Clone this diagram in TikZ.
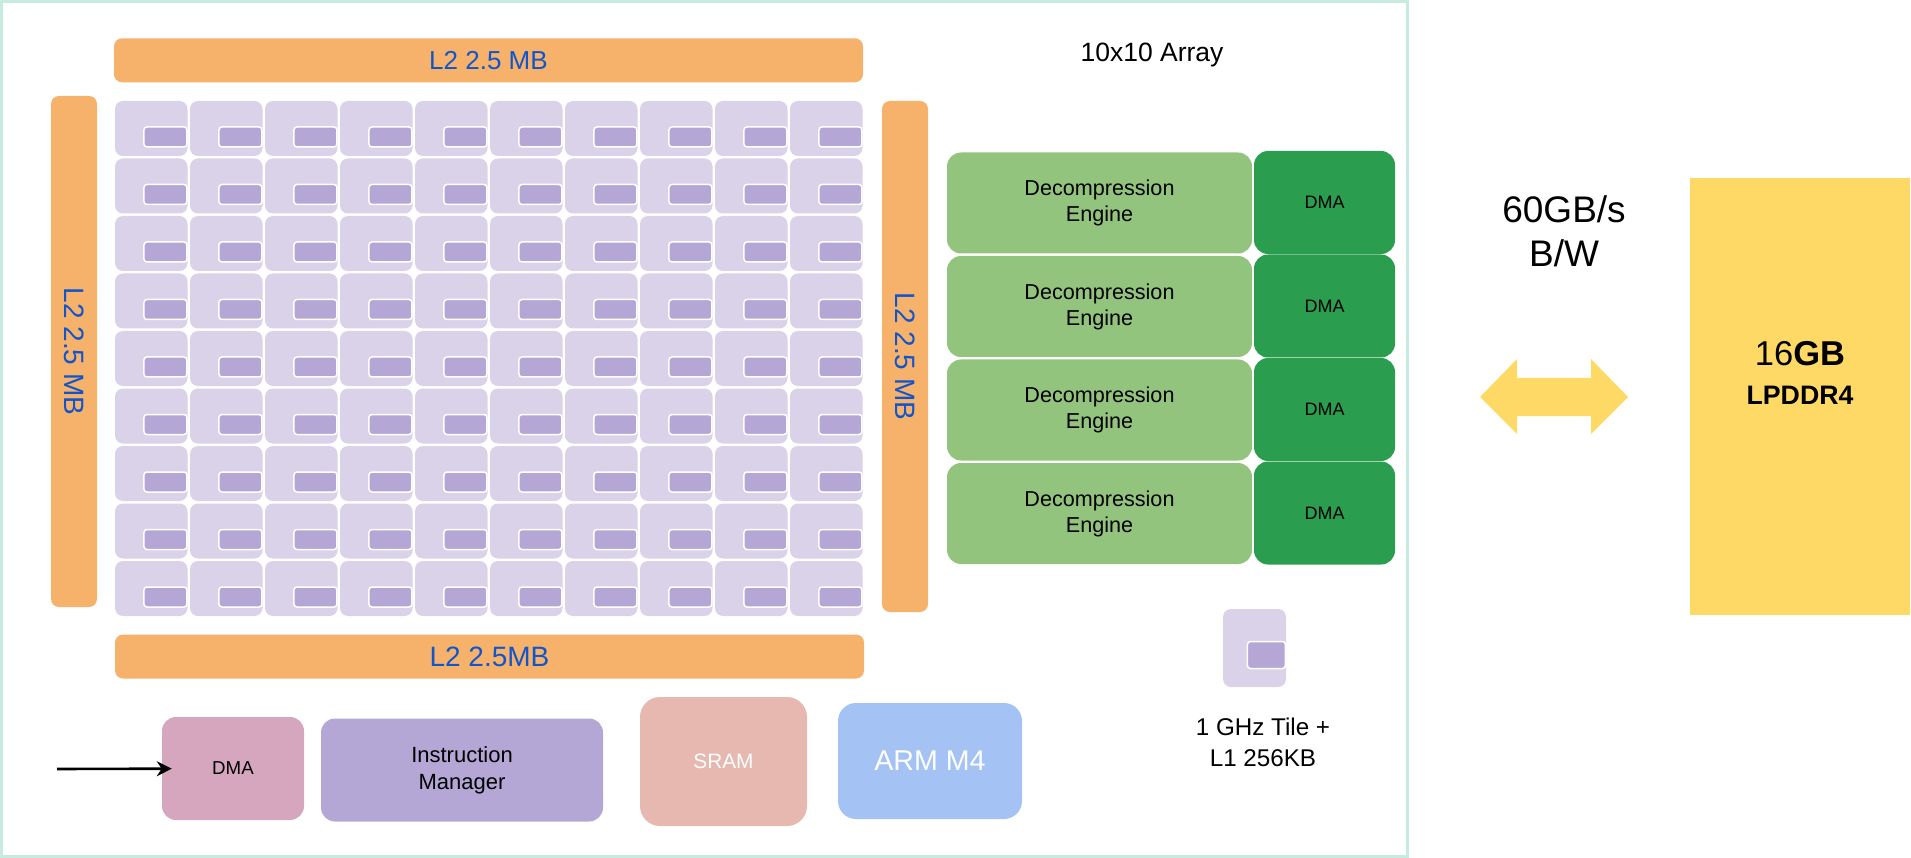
\documentclass[tikz,border=0pt]{standalone}
\usepackage{fontspec}
\setmainfont{Liberation Sans}
\usetikzlibrary{arrows.meta}
\definecolor{framec}{HTML}{C6ECDF}
\definecolor{l2c}{HTML}{F6B26B}
\definecolor{l2txt}{HTML}{1155CC}
\definecolor{tilec}{HTML}{D9D2E9}
\definecolor{corec}{HTML}{B4A7D6}
\definecolor{engc}{HTML}{93C47D}
\definecolor{dmagc}{HTML}{2A9D4F}
\definecolor{dmapc}{HTML}{D5A6BD}
\definecolor{sramc}{HTML}{E6B8AF}
\definecolor{armc}{HTML}{A4C2F4}
\definecolor{memc}{HTML}{FFD966}
\begin{document}
\begin{tikzpicture}[x=1pt,y=-1pt,>={Stealth[length=15pt,width=15pt]},
  box/.style={rectangle,inner sep=0pt,align=center,rounded corners=#1},
  box/.default=14pt,
  l2bar/.style={box=8pt,fill=l2c,text=l2txt,font=\fontsize{28}{34}\selectfont},
  tile/.style={box=8pt,fill=tilec,minimum width=72.5,minimum height=55},
  core/.style={rectangle,inner sep=0pt,rounded corners=3pt,fill=corec,draw=white,
    line width=1.5pt,minimum width=43,minimum height=20,anchor=east},
  engine/.style={box=14pt,fill=engc,minimum width=305,minimum height=101,
    font=\fontsize{21.6}{26}\selectfont},
  dmag/.style={box=14pt,fill=dmagc,minimum width=141,minimum height=103,
    font=\fontsize{18}{22}\selectfont}]
\useasboundingbox (0,0) rectangle (1911,858);
\draw[framec,line width=3pt] (1.5,1.5) rectangle (1407,856.5);

% L2 around the array
\node[l2bar,minimum width=749,minimum height=44,font=\fontsize{26}{30}\selectfont] (l2top) at (488.5,60.3) {L2 2.5 MB};
\node[l2bar,minimum width=749,minimum height=44] (l2bot) at (489.5,656.5) {L2 2.5MB};
\node[l2bar,minimum width=511,minimum height=46,rotate=-90] (l2left) at (74,351.5) {L2 2.5 MB};
\node[l2bar,minimum width=511,minimum height=46,rotate=-90] (l2right) at (905,356.5) {L2 2.5 MB};

% tile array
\foreach \r in {0,...,8}
  \foreach \c in {0,...,9} {
    \node[tile] (t-\r-\c) at ({151.25+75*\c},{128.5+57.5*\r}) {};
    \node[core] at ([yshift=-8.5pt]t-\r-\c.east) {};
  }
\node[font=\fontsize{26.5}{30}\selectfont] (arrayname) at (1152,55) {10x10 Array};

% decompression + dma
\foreach \i in {1,...,4} {
  \node[engine] (eng\i) at (1099.5,{99.5+103.5*\i}) {Decompression\\Engine};
  \node[dmag] (dmag\i) at (1324.5,{99+103.5*\i}) {DMA};
}

% bottom row
\node[box,fill=dmapc,minimum width=142,minimum height=103,font=\fontsize{18.7}{22}\selectfont] (dma) at (233,768.5) {DMA};
\node[box,fill=corec,minimum width=282,minimum height=103,font=\fontsize{22}{27}\selectfont] (instr) at (462,770) {Instruction\\Manager};
\node[box=20pt,fill=sramc,text=white,minimum width=167,minimum height=129,font=\fontsize{20.8}{25}\selectfont] (sram) at (723.5,761.5) {SRAM};
\node[box=18pt,fill=armc,text=white,minimum width=184,minimum height=116,font=\fontsize{28.6}{34}\selectfont] (arm) at (930,761) {ARM M4};
\coordinate (dmain) at (57,769);
\draw[->,line width=2.6pt,shorten >=-10pt] (dmain) -- (dma);

% legend tile
\node[tile,minimum width=63,minimum height=78] (legtile) at (1254.5,648) {};
\node[core,minimum width=38,minimum height=27] at ([yshift=-7pt]legtile.east) {};
\node[align=center,font=\fontsize{24.2}{31}\selectfont] (legtext) at (1263,742) {1 GHz Tile +\\L1 256KB};

% memory
\node[align=center,font=\fontsize{37}{44}\selectfont] (bw) at (1564,231) {60GB/s\\B/W};
\fill[memc] (1480,397) -- ++(37,-38) -- ++(0,19) -- ++(74,0) -- ++(0,-19) -- ++(37,38)
  -- ++(-37,37) -- ++(0,-18) -- ++(-74,0) -- ++(0,18) -- cycle;
\node[rectangle,fill=memc,minimum width=220,minimum height=437,inner sep=0pt] (mem) at (1800,396.5) {};
\node[font=\fontsize{34.5}{40}\selectfont] (memsize) at (1800,354) {16\textbf{GB}};
\node[font=\bfseries\fontsize{26.7}{32}\selectfont] (memtype) at (1800,395) {LPDDR4};
\end{tikzpicture}
\end{document}
